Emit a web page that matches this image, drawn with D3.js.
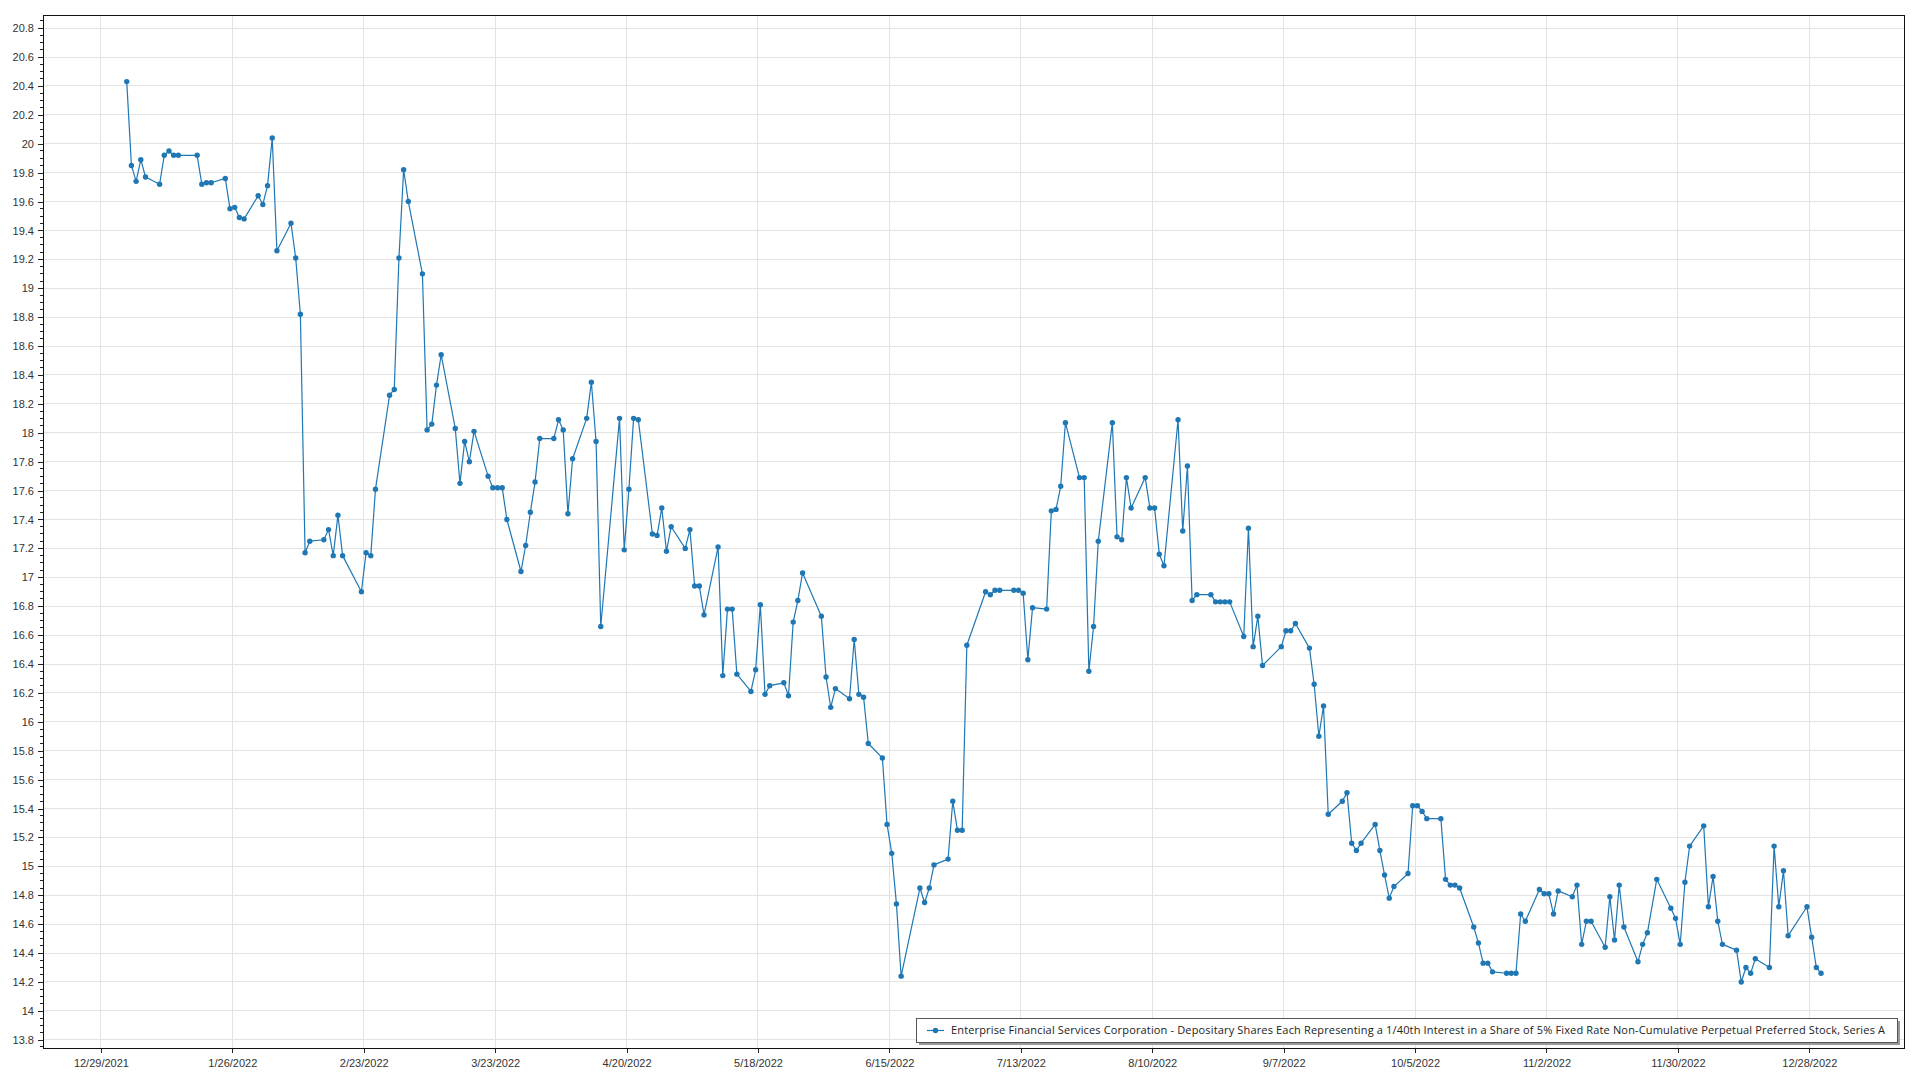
<!DOCTYPE html>
<html><head><meta charset="utf-8">
<script src="https://cdn.jsdelivr.net/npm/d3@7"></script>
<style>
html,body{margin:0;padding:0;background:#fff;}
svg{display:block;font-family:"Segoe UI","Open Sans","Noto Sans",sans-serif;}
</style></head>
<body>
<svg id="chart" width="1920" height="1080"></svg>
<script>
// ---- data (trading days of 2022, closing prices) ----
const dates = [
"2022-01-03","2022-01-04","2022-01-05","2022-01-06","2022-01-07",
"2022-01-10","2022-01-11","2022-01-12","2022-01-13","2022-01-14",
"2022-01-18","2022-01-19","2022-01-20","2022-01-21",
"2022-01-24","2022-01-25","2022-01-26","2022-01-27","2022-01-28",
"2022-01-31","2022-02-01","2022-02-02","2022-02-03","2022-02-04",
"2022-02-07","2022-02-08","2022-02-09","2022-02-10","2022-02-11",
"2022-02-14","2022-02-15","2022-02-16","2022-02-17","2022-02-18",
"2022-02-22","2022-02-23","2022-02-24","2022-02-25",
"2022-02-28","2022-03-01","2022-03-02","2022-03-03","2022-03-04",
"2022-03-07","2022-03-08","2022-03-09","2022-03-10","2022-03-11",
"2022-03-14","2022-03-15","2022-03-16","2022-03-17","2022-03-18",
"2022-03-21","2022-03-22","2022-03-23","2022-03-24","2022-03-25",
"2022-03-28","2022-03-29","2022-03-30","2022-03-31","2022-04-01",
"2022-04-04","2022-04-05","2022-04-06","2022-04-07","2022-04-08",
"2022-04-11","2022-04-12","2022-04-13","2022-04-14",
"2022-04-18","2022-04-19","2022-04-20","2022-04-21","2022-04-22",
"2022-04-25","2022-04-26","2022-04-27","2022-04-28","2022-04-29",
"2022-05-02","2022-05-03","2022-05-04","2022-05-05","2022-05-06",
"2022-05-09","2022-05-10","2022-05-11","2022-05-12","2022-05-13",
"2022-05-16","2022-05-17","2022-05-18","2022-05-19","2022-05-20",
"2022-05-23","2022-05-24","2022-05-25","2022-05-26","2022-05-27",
"2022-05-31","2022-06-01","2022-06-02","2022-06-03",
"2022-06-06","2022-06-07","2022-06-08","2022-06-09","2022-06-10",
"2022-06-13","2022-06-14","2022-06-15","2022-06-16","2022-06-17",
"2022-06-21","2022-06-22","2022-06-23","2022-06-24",
"2022-06-27","2022-06-28","2022-06-29","2022-06-30","2022-07-01",
"2022-07-05","2022-07-06","2022-07-07","2022-07-08",
"2022-07-11","2022-07-12","2022-07-13","2022-07-14","2022-07-15",
"2022-07-18","2022-07-19","2022-07-20","2022-07-21","2022-07-22",
"2022-07-25","2022-07-26","2022-07-27","2022-07-28","2022-07-29",
"2022-08-01","2022-08-02","2022-08-03","2022-08-04","2022-08-05",
"2022-08-08","2022-08-09","2022-08-10","2022-08-11","2022-08-12",
"2022-08-15","2022-08-16","2022-08-17","2022-08-18","2022-08-19",
"2022-08-22","2022-08-23","2022-08-24","2022-08-25","2022-08-26",
"2022-08-29","2022-08-30","2022-08-31","2022-09-01","2022-09-02",
"2022-09-06","2022-09-07","2022-09-08","2022-09-09",
"2022-09-12","2022-09-13","2022-09-14","2022-09-15","2022-09-16",
"2022-09-19","2022-09-20","2022-09-21","2022-09-22","2022-09-23",
"2022-09-26","2022-09-27","2022-09-28","2022-09-29","2022-09-30",
"2022-10-03","2022-10-04","2022-10-05","2022-10-06","2022-10-07",
"2022-10-10","2022-10-11","2022-10-12","2022-10-13","2022-10-14",
"2022-10-17","2022-10-18","2022-10-19","2022-10-20","2022-10-21",
"2022-10-24","2022-10-25","2022-10-26","2022-10-27","2022-10-28",
"2022-10-31","2022-11-01","2022-11-02","2022-11-03","2022-11-04",
"2022-11-07","2022-11-08","2022-11-09","2022-11-10","2022-11-11",
"2022-11-14","2022-11-15","2022-11-16","2022-11-17","2022-11-18",
"2022-11-21","2022-11-22","2022-11-23","2022-11-25",
"2022-11-28","2022-11-29","2022-11-30","2022-12-01","2022-12-02",
"2022-12-05","2022-12-06","2022-12-07","2022-12-08","2022-12-09",
"2022-12-12","2022-12-13","2022-12-14","2022-12-15","2022-12-16",
"2022-12-19","2022-12-20","2022-12-21","2022-12-22","2022-12-23",
"2022-12-27","2022-12-28","2022-12-29","2022-12-30"
];
const prices = [
20.43,19.85,19.74,19.89,19.77,
19.72,19.92,19.95,19.92,19.92,
19.92,19.72,19.73,19.73,
19.76,19.55,19.56,19.49,19.48,
19.64,19.58,19.71,20.04,19.26,
19.45,19.21,18.82,17.17,17.25,
17.26,17.33,17.15,17.43,17.15,
16.90,17.17,17.15,17.61,
18.26,18.30,19.21,19.82,19.60,
19.10,18.02,18.06,18.33,18.54,
18.03,17.65,17.94,17.80,18.01,
17.70,17.62,17.62,17.62,17.40,
17.04,17.22,17.45,17.66,17.96,
17.96,18.09,18.02,17.44,17.82,
18.10,18.35,17.94,16.66,
18.10,17.19,17.61,18.10,18.09,
17.30,17.29,17.48,17.18,17.35,
17.20,17.33,16.94,16.94,16.74,
17.21,16.32,16.78,16.78,16.33,
16.21,16.36,16.81,16.19,16.25,
16.27,16.18,16.69,16.84,17.03,
16.73,16.31,16.10,16.23,
16.16,16.57,16.19,16.17,15.85,
15.75,15.29,15.09,14.74,14.24,
14.85,14.75,14.85,15.01,
15.05,15.45,15.25,15.25,16.53,
16.90,16.88,16.91,16.91,
16.91,16.91,16.89,16.43,16.79,
16.78,17.46,17.47,17.63,18.07,
17.69,17.69,16.35,16.66,17.25,
18.07,17.28,17.26,17.69,17.48,
17.69,17.48,17.48,17.16,17.08,
18.09,17.32,17.77,16.84,16.88,
16.88,16.83,16.83,16.83,16.83,
16.59,17.34,16.52,16.73,16.39,
16.52,16.63,16.63,16.68,
16.51,16.26,15.90,16.11,15.36,
15.45,15.51,15.16,15.11,15.16,
15.29,15.11,14.94,14.78,14.86,
14.95,15.42,15.42,15.38,15.33,
15.33,14.91,14.87,14.87,14.85,
14.58,14.47,14.33,14.33,14.27,
14.26,14.26,14.26,14.67,14.62,
14.84,14.81,14.81,14.67,14.83,
14.79,14.87,14.46,14.62,14.62,
14.44,14.79,14.49,14.87,14.58,
14.34,14.46,14.54,14.91,
14.71,14.64,14.46,14.89,15.14,
15.28,14.72,14.93,14.62,14.46,
14.42,14.20,14.30,14.26,14.36,
14.30,15.14,14.72,14.97,14.52,
14.72,14.51,14.30,14.26
];
const xTickLabels = ["12/29/2021","1/26/2022","2/23/2022","3/23/2022","4/20/2022","5/18/2022","6/15/2022",
  "7/13/2022","8/10/2022","9/7/2022","10/5/2022","11/2/2022","11/30/2022","12/28/2022"];
const yTickValues = [13.8,14,14.2,14.4,14.6,14.8,15,15.2,15.4,15.6,15.8,16,16.2,16.4,16.6,16.8,17,17.2,17.4,17.6,17.8,18,18.2,18.4,18.6,18.8,19,19.2,19.4,19.6,19.8,20,20.2,20.4,20.6,20.8];
const seriesName = "Enterprise Financial Services Corporation - Depositary Shares Each Representing a 1/40th Interest in a Share of 5% Fixed Rate Non-Cumulative Perpetual Preferred Stock, Series A";

// ---- layout ----
const L = 43, R = 1905, T = 15, B = 1049;
const DAY = 864e5;
const parseUTC = s => { const [y,m,d] = s.split("-").map(Number); return new Date(Date.UTC(y,m-1,d)); };
const parseTick = s => { const [m,d,y] = s.split("/").map(Number); return new Date(Date.UTC(y,m-1,d)); };
const tickDates = xTickLabels.map(parseTick);

const x = d3.scaleUtc()
  .domain([new Date(tickDates[0].getTime() - 12.34*DAY), new Date(tickDates[tickDates.length-1].getTime() + 20.39*DAY)])
  .range([L, R]);
const y = d3.scaleLinear().domain([13.736, 20.891]).range([B, T]);

const data = dates.map((d,i) => ({t: new Date(parseUTC(d).getTime() + 0.5*DAY), v: prices[i]}));

const svg = d3.select("#chart");
const color = "#1f77b4";

// gridlines
const grid = svg.append("g");
grid.selectAll("line.h").data(yTickValues).enter().append("line")
  .attr("x1", L).attr("x2", R).attr("y1", d => y(d)).attr("y2", d => y(d))
  .attr("stroke", "#e3e3e3").attr("stroke-width", 1).attr("shape-rendering","crispEdges");
grid.selectAll("line.v").data(tickDates).enter().append("line")
  .attr("x1", d => x(d)).attr("x2", d => x(d)).attr("y1", T).attr("y2", B)
  .attr("stroke", "#e3e3e3").attr("stroke-width", 1).attr("shape-rendering","crispEdges");

// y axis
const yAxis = d3.axisLeft(y).tickValues(yTickValues).tickSize(5).tickPadding(4)
  .tickFormat(d => d3.format("~g")(d));
const gy = svg.append("g").attr("transform", `translate(${L},0)`).call(yAxis);
// minor y ticks
const yMinor = d3.range(13.75, 20.9, 0.05).filter(v => Math.abs(Math.round(v*5)-v*5) > 1e-6);
svg.append("g").selectAll("line").data(yMinor).enter().append("line")
  .attr("x1", L-3).attr("x2", L).attr("y1", d => y(d)).attr("y2", d => y(d))
  .attr("stroke", "#222").attr("shape-rendering","crispEdges");

// x axis
const xAxis = d3.axisBottom(x).tickValues(tickDates).tickSize(4).tickPadding(6)
  .tickFormat((d,i) => xTickLabels[i]);
const gx = svg.append("g").attr("transform", `translate(0,${B})`).call(xAxis);

[gx, gy].forEach(g => {
  g.select(".domain").remove();
  g.selectAll(".tick line").attr("stroke", "#222").attr("shape-rendering","crispEdges");
  g.selectAll(".tick text").attr("fill", "#333").style("font-size", "11px");
});

// frame
svg.append("rect").attr("x", L+0.5).attr("y", T+0.5).attr("width", R-L-1).attr("height", B-T-1)
  .attr("fill", "none").attr("stroke", "#111").attr("stroke-width", 1);

// series
const line = d3.line().x(d => x(d.t)).y(d => y(d.v));
svg.append("path").datum(data).attr("d", line)
  .attr("fill", "none").attr("stroke", color).attr("stroke-width", 1.2).attr("stroke-linejoin","round");
svg.append("g").selectAll("circle").data(data).enter().append("circle")
  .attr("cx", d => x(d.t)).attr("cy", d => y(d.v)).attr("r", 2.7).attr("fill", color);

// legend
const lg = svg.append("g");
const lx = 916, ly = 1018, lw = 981, lh = 24;
lg.append("rect").attr("x", lx+3).attr("y", ly+3).attr("width", lw).attr("height", lh).attr("fill", "#9a9a9a");
lg.append("rect").attr("x", lx+0.5).attr("y", ly+0.5).attr("width", lw).attr("height", lh)
  .attr("fill", "#fff").attr("stroke", "#555");
lg.append("line").attr("x1", lx+11).attr("x2", lx+28).attr("y1", ly+lh/2+0.5).attr("y2", ly+lh/2+0.5)
  .attr("stroke", color).attr("stroke-width", 1.2);
lg.append("circle").attr("cx", lx+19.5).attr("cy", ly+lh/2+0.5).attr("r", 2.7).attr("fill", color);
lg.append("text").attr("x", lx+35).attr("y", ly+lh/2+0.5).attr("dy", "0.35em")
  .attr("fill", "#222").style("font-size", "11px")
  .attr("textLength", 934).attr("lengthAdjust", "spacing")
  .text(seriesName);
</script>
</body></html>
